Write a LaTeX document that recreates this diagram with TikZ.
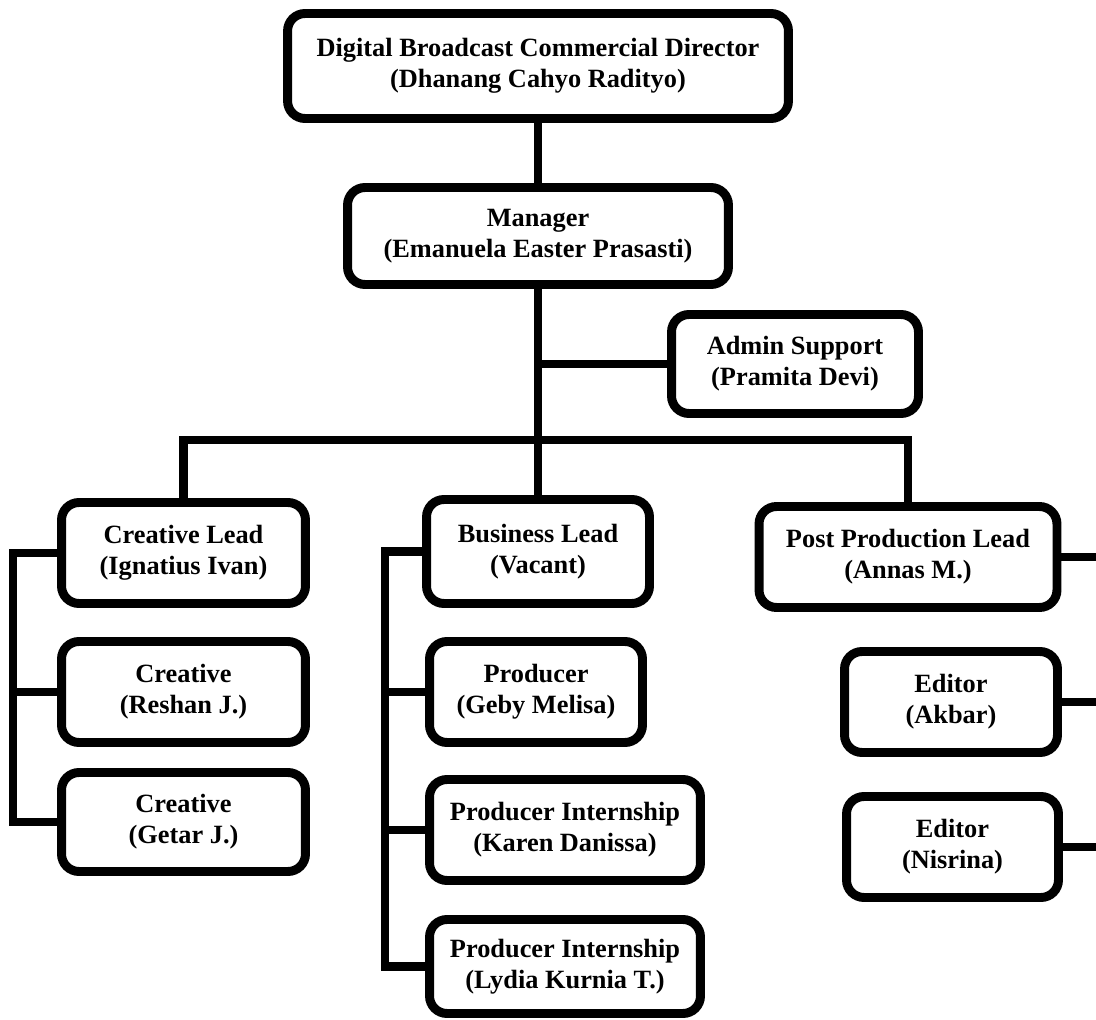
\documentclass[tikz,border=0pt]{standalone}
\usepackage{fontspec}
\setmainfont{Liberation Serif}
\usetikzlibrary{calc,positioning}

\begin{document}
\begin{tikzpicture}[x=0.02cm, y=-0.02cm, line width=5.1pt, minimum width=4.88cm, minimum height=2.02cm, font=\fontsize{15}{17.6}\selectfont\bfseries]
	    \tikzstyle{box}=[draw=black, rounded corners=0.35cm, align=center, inner sep=0pt]
	    \useasboundingbox (0,0) rectangle (1096,1020);
	    
	    \node[box, minimum width=10.02cm, minimum height=2.10cm] (director) at (538,66) {Digital Broadcast Commercial Director \\ (Dhanang Cahyo Radityo)};
	    \node[box, minimum width=7.62cm, minimum height=1.94cm] (manager) at (538,236) {Manager \\ (Emanuela Easter Prasasti)};
	    \node[box, minimum width=4.94cm, minimum height=1.98cm] (admin) at (795,364) {Admin Support \\ (Pramita Devi)};
	    
	    \node[box] (creative lead) at (183.5,553) {Creative Lead \\ (Ignatius Ivan)};
	    \node[box] (creative reshan) at (183.5,692) {Creative \\ (Reshan J.)};
	    \node[box, minimum height=1.98cm] (creative getar) at (183.5,822) {Creative \\ (Getar J.)};
	    
	    \node[box, minimum width=4.46cm, minimum height=2.08cm] (business lead) at (538,551.5) {Business Lead \\ (Vacant)};
	    \node[box, minimum width=4.26cm] (producer geby) at (536,692) {Producer \\ (Geby Melisa)};
	    \node[box, minimum width=5.42cm] (intern karen) at (565,830) {Producer Internship \\ (Karen Danissa)};
	    \node[box, minimum width=5.42cm, minimum height=1.88cm] (intern lydia) at (565,966.5) {Producer Internship \\ (Lydia Kurnia T.)};
	    
	    \node[box, minimum width=5.96cm] (post lead) at (908,557) {Post Production Lead \\ (Annas M.)};
	    \node[box, minimum width=4.26cm] (editor akbar) at (951,702) {Editor \\ (Akbar)};
	    \node[box, minimum width=4.24cm] (editor nisrina) at (952.5,847) {Editor \\ (Nisrina)};
	    
	    \coordinate (hub) at (538,440);
	    \coordinate (creative bar) at (13,0);
	    \coordinate (business bar) at (385,0);
	    \coordinate (edge) at (1096,0);
	    
	    \draw (director) 		-- (manager);
	    \draw (manager) 		-- (business lead);
	    \draw (admin.west) 		-- (admin.west -| manager.south);
	    \draw (creative lead.north) |- (hub) -| (post lead.north);
	    
	    \draw (creative lead.west) 	-- (creative lead.west -| creative bar) |- (creative getar.west);
	    \draw (creative reshan.west) 	-- (creative reshan.west -| creative bar);
	    
	    \draw (business lead.west) 	-- (business lead.west -| business bar) |- (intern lydia.west);
	    \draw (producer geby.west) 	-- (producer geby.west -| business bar);
	    \draw (intern karen.west) 	-- (intern karen.west -| business bar);
	    
	    \draw (post lead.east) 	-- (post lead.east -| edge);
	    \draw (editor akbar.east) 	-- (editor akbar.east -| edge);
	    \draw (editor nisrina.east) 	-- (editor nisrina.east -| edge);
    
\end{tikzpicture}
\end{document}
